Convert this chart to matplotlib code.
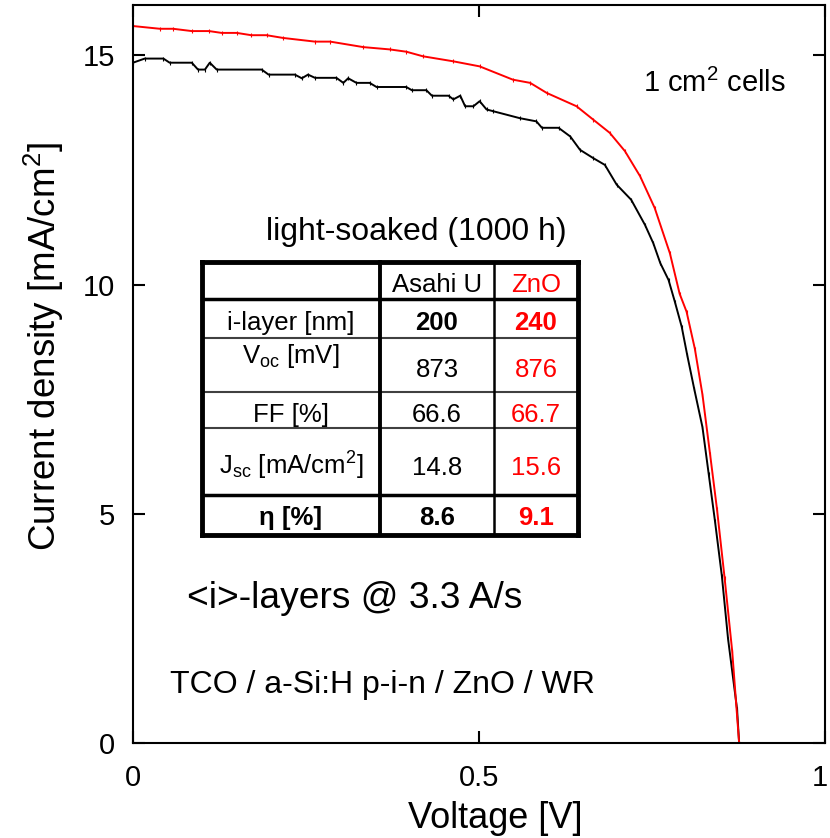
import numpy as np
import matplotlib
matplotlib.use('Agg')
from matplotlib import pyplot as plt
from matplotlib.transforms import ScaledTranslation

plt.rcParams['font.family'] = ['Liberation Sans', 'DejaVu Sans']
plt.rcParams['mathtext.default'] = 'regular'

# J-V curves, light-soaked (1000 h)
v_zno = [0.0, 0.039, 0.058, 0.085, 0.11, 0.128, 0.15, 0.171, 0.193, 0.217,
         0.263, 0.285, 0.333, 0.371, 0.395, 0.419, 0.463, 0.501, 0.549, 0.574,
         0.598, 0.641, 0.665, 0.689, 0.711, 0.733, 0.754, 0.776, 0.79, 0.80,
         0.812, 0.823, 0.834, 0.844, 0.855, 0.866, 0.876]
j_zno = [15.64, 15.58, 15.58, 15.53, 15.53, 15.49, 15.49, 15.44, 15.44, 15.38,
         15.30, 15.30, 15.18, 15.13, 15.08, 14.98, 14.87, 14.76, 14.47, 14.40,
         14.18, 13.89, 13.60, 13.31, 12.91, 12.36, 11.67, 10.68, 9.8, 9.41,
         8.6, 7.6, 6.3, 5.1, 3.6, 2.0, 0.0]

v_asahi = [0.0, 0.017, 0.044, 0.053, 0.085, 0.094, 0.104, 0.111, 0.121, 0.186,
           0.196, 0.234, 0.244, 0.253, 0.263, 0.294, 0.304, 0.311, 0.323, 0.342,
           0.352, 0.395, 0.403, 0.424, 0.432, 0.456, 0.463, 0.473, 0.480, 0.492,
           0.501, 0.511, 0.521, 0.559, 0.583, 0.591, 0.615, 0.632, 0.646, 0.665,
           0.682, 0.699, 0.720, 0.740, 0.752, 0.762, 0.774, 0.783, 0.793, 0.801,
           0.811, 0.823, 0.832, 0.841, 0.851, 0.860, 0.873, 0.876]
j_asahi = [14.84, 14.93, 14.93, 14.84, 14.84, 14.69, 14.69, 14.84, 14.69, 14.69,
           14.58, 14.58, 14.50, 14.58, 14.51, 14.51, 14.40, 14.50, 14.40, 14.40,
           14.31, 14.31, 14.24, 14.24, 14.12, 14.12, 14.04, 14.12, 13.89, 13.89,
           14.00, 13.82, 13.78, 13.63, 13.56, 13.42, 13.42, 13.23, 12.94, 12.76,
           12.61, 12.18, 11.85, 11.30, 10.90, 10.47, 10.10, 9.63, 9.08, 8.46,
           7.73, 6.89, 5.87, 4.85, 3.65, 2.27, 0.74, 0.0]

# table contents
row_labels = ['i-layer [nm]', 'V$_{oc}$ [mV]', 'FF [%]',
              'J$_{sc}$ [mA/cm$^{2}$]', '\u03b7 [%]']
col_labels = ['Asahi U', 'ZnO']
asahi_vals = ['200', '873', '66.6', '14.8', '8.6']
zno_vals = ['240', '876', '66.7', '15.6', '9.1']
bold_values = [0, 4]
bold_labels = [4]

fig = plt.figure(figsize=(8.3, 8.38), dpi=100)
ax = fig.add_axes([0.1602, 0.1134, 0.8337, 0.8807])

ax.plot(v_asahi, j_asahi, '-', color='black', lw=1.4, marker='|', ms=3, mew=0.8)
ax.plot(v_zno, j_zno, '-', color='red', lw=1.4, marker='|', ms=3, mew=0.8)

ax.set_xlim(0, 1)
ax.set_ylim(0, 16.1)
ax.set_xticks([0, 0.5, 1])
ax.set_xticklabels(['0', '0.5', '1'])
ax.set_yticks([0, 5, 10, 15])
ax.tick_params(axis='both', direction='in', length=8.6, width=1.5,
               top=True, right=True, labelsize=21)
ax.tick_params(axis='x', pad=15)
ax.tick_params(axis='y', pad=13)
for s in ax.spines.values():
    s.set_linewidth(1.5)
# keep the last x label inside the figure edge
last = ax.get_xticklabels()[-1]
last.set_transform(last.get_transform() + ScaledTranslation(-4 / 72, 0, fig.dpi_scale_trans))

ax.set_xlabel('Voltage [V]', fontsize=26)
ax.xaxis.set_label_coords(0.523, -0.079)
ax.set_ylabel('Current density [mA/cm$^{2}$]', fontsize=26.5)
ax.yaxis.set_label_coords(-0.097, 0.537)

ax.text(0.840, 0.882, '1 cm$^{2}$ cells', transform=ax.transAxes,
        ha='center', va='baseline', fontsize=21)
ax.text(0.409, 0.682, 'light-soaked (1000 h)', transform=ax.transAxes,
        ha='center', va='baseline', fontsize=23)
ax.text(0.078, 0.183, '<i>-layers @ 3.3 A/s', transform=ax.transAxes,
        ha='left', va='baseline', fontsize=26.7)
ax.text(0.053, 0.068, 'TCO / a-Si:H p-i-n / ZnO / WR', transform=ax.transAxes,
        ha='left', va='baseline', fontsize=23)

# table frame (axes fractions)
tx = [0.0997, 0.3569, 0.5217, 0.6431]
ty = [0.6518, 0.6016, 0.5488, 0.4756, 0.4268, 0.3360, 0.2818]
line_kw = dict(transform=ax.transAxes, clip_on=False, solid_capstyle='projecting')
for i, y in enumerate(ty):
    if i in (0, len(ty) - 1):
        lw, c = 3.5, 'black'
    elif i in (1, 5):
        lw, c = 2.5, 'black'
    else:
        lw, c = 1.5, '0.25'
    ax.plot([tx[0], tx[-1]], [y, y], color=c, lw=lw, **line_kw)
for i, x in enumerate(tx):
    lw = 3.5 if i in (0, 3) else (2.8 if i == 1 else 1.8)
    ax.plot([x, x], [ty[0], ty[-1]], color='black', lw=lw, **line_kw)

cx = [0.2283, 0.4393, 0.5824]
header_y = 0.6111
row_y = [0.5596, 0.5150, 0.4350, 0.3631, 0.2954]
num_y = [0.5596, 0.4959, 0.4350, 0.3631, 0.2954]
ax.text(cx[1], header_y, col_labels[0], transform=ax.transAxes,
        ha='center', va='baseline', fontsize=18.5)
ax.text(cx[2], header_y, col_labels[1], transform=ax.transAxes,
        ha='center', va='baseline', fontsize=18.5, color='red')
for k in range(len(row_labels)):
    fl = 'bold' if k in bold_labels else 'normal'
    fv = 'bold' if k in bold_values else 'normal'
    ax.text(cx[0], row_y[k], row_labels[k], transform=ax.transAxes,
            ha='center', va='baseline', fontsize=18.5, fontweight=fl)
    ax.text(cx[1], num_y[k], asahi_vals[k], transform=ax.transAxes,
            ha='center', va='baseline', fontsize=18.5, fontweight=fv)
    ax.text(cx[2], num_y[k], zno_vals[k], transform=ax.transAxes,
            ha='center', va='baseline', fontsize=18.5, fontweight=fv, color='red')

fig.savefig('out.png', dpi=100)
